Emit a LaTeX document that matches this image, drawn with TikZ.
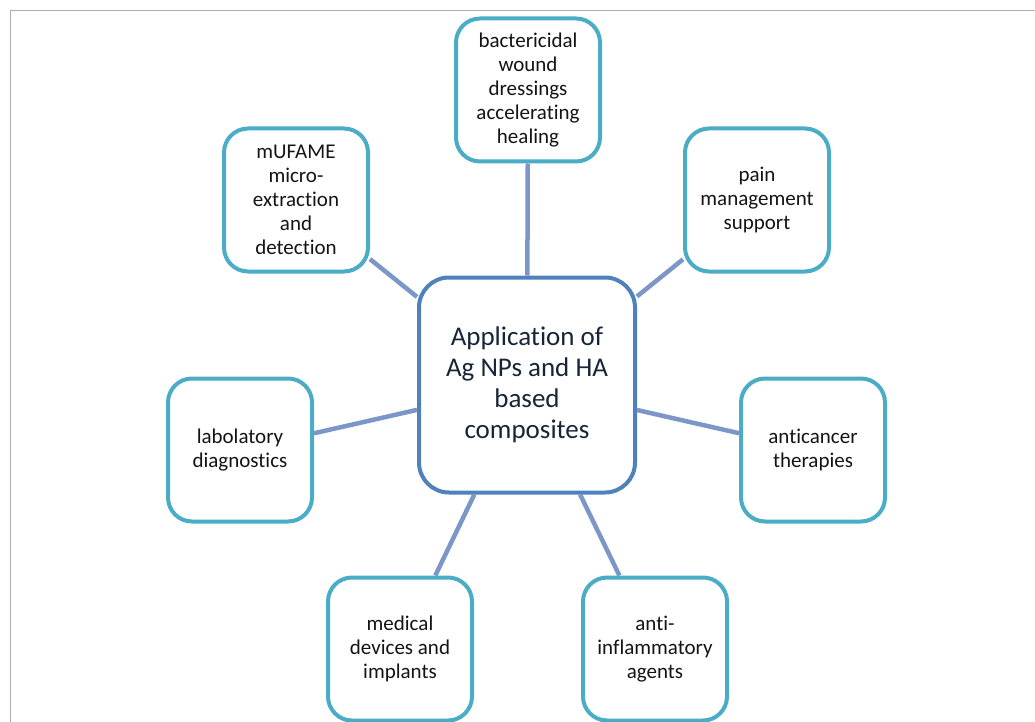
\documentclass[tikz,border=0pt]{standalone}
\usepackage{fontspec}
\setmainfont{Carlito}[Ligatures=NoCommon]
\definecolor{aqua}{RGB}{75,172,198}
\definecolor{cblue}{RGB}{79,129,189}
\definecolor{link}{RGB}{124,150,200}
\definecolor{ink}{RGB}{20,20,20}
\definecolor{navy}{RGB}{23,37,56}
\definecolor{frame}{RGB}{175,175,175}
\tikzset{
  leaf/.style={draw=aqua, line width=4pt, rounded corners=24pt, fill=white,
    minimum width=144pt, minimum height=143pt, align=center, text=ink,
    font=\fontsize{21}{24}\selectfont, inner sep=2pt},
  hub/.style={draw=cblue, line width=4pt, rounded corners=30pt, fill=white,
    minimum width=216pt, minimum height=215pt, align=center, text=navy,
    font=\fontsize{27}{31}\selectfont, inner sep=2pt},
  conn/.style={draw=link, line width=4.5pt}
}
\begin{document}
\begin{tikzpicture}[x=1pt,y=-1pt]
\useasboundingbox (0,0) rectangle (1035,722);
\draw[frame, line width=1.5pt] (1040,10.5) -- (10.5,10.5) -- (10.5,730);
\node[hub] (c) at (527,385) {Application of\\Ag NPs and HA\\based\\composites};
\node[leaf] (t) at (528,90) {bactericidal\\wound\\dressings\\accelerating\\healing};
\node[leaf] (m) at (296,200) {mUFAME\\micro-\\extraction\\and\\detection};
\node[leaf] (p) at (757,200) {pain\\management\\support};
\node[leaf] (l) at (240,450) {labolatory\\diagnostics};
\node[leaf] (a) at (813,450) {anticancer\\therapies};
\node[leaf] (d) at (400,649) {medical\\devices and\\implants};
\node[leaf] (i) at (655,649) {anti-\\inflammatory\\agents};
\foreach \n in {t,m,p,l,a,d,i} \draw[conn] (c) -- (\n);
\end{tikzpicture}
\end{document}
